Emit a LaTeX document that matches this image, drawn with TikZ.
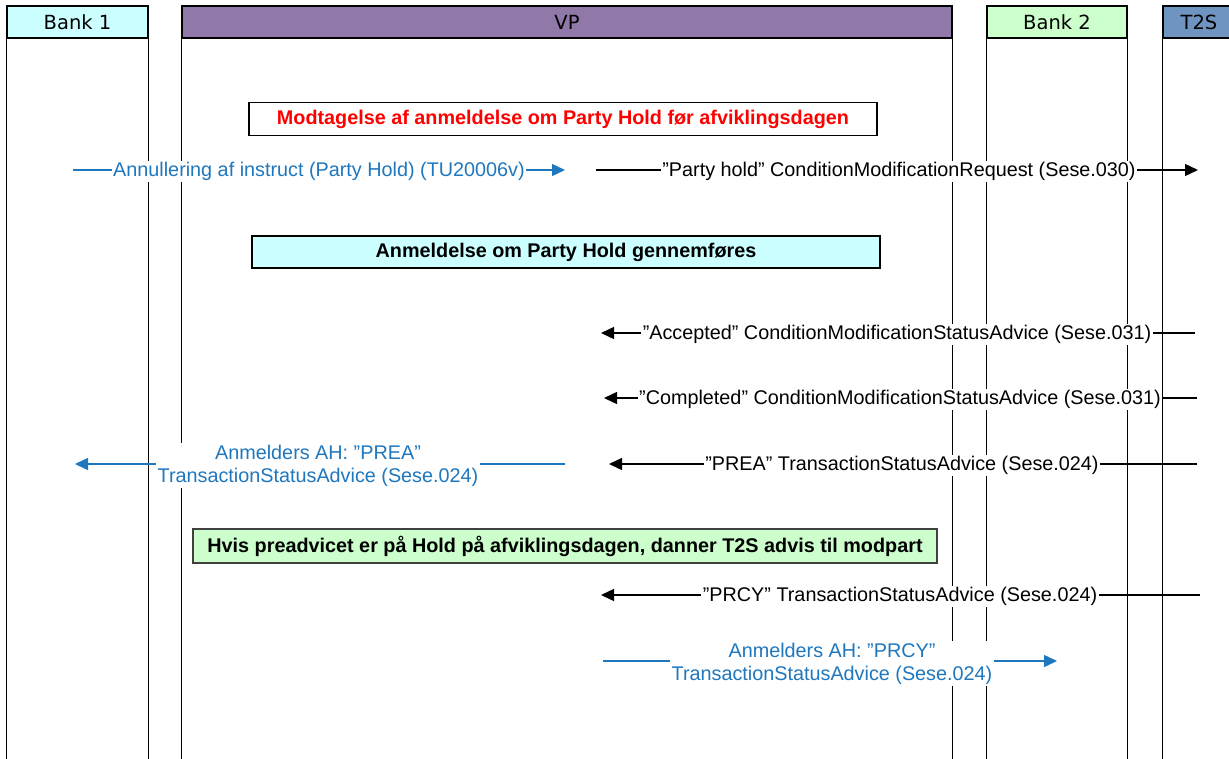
\documentclass[tikz,border=0pt]{standalone}
\usepackage{fontspec}
\setmainfont{Liberation Sans}
\newfontfamily\headfont{DejaVu Sans}
\usetikzlibrary{arrows.meta}
\definecolor{bankcyan}{HTML}{CCFFFF}
\definecolor{vppurple}{HTML}{9079A9}
\definecolor{bankgreen}{HTML}{CCFFCC}
\definecolor{tsblue}{HTML}{7094C1}
\definecolor{msgblue}{HTML}{1F77BE}
\tikzset{
  lane/.style={draw=black, line width=1.3pt, minimum height=32pt, inner sep=0pt,
    font=\headfont\fontsize{19.5}{22}\selectfont},
  life/.style={line width=1.3pt},
  msg/.style={line width=1.4pt, -{Triangle[length=13pt,width=12pt]}},
  bmsg/.style={msg, draw=msgblue},
  lbl/.style={fill=white, inner sep=1.5pt, yshift=-1.5pt, font=\fontsize{19.8}{23}\selectfont},
  blbl/.style={lbl, text=msgblue, align=center},
  note/.style={draw=black, line width=1.3pt, inner sep=0pt, minimum height=33pt,
    font=\bfseries\fontsize{19.8}{23}\selectfont}
}
\begin{document}
\begin{tikzpicture}[x=1pt,y=-1pt]
  \useasboundingbox (0,0) rectangle (1229,758);
  \clip (0,0) rectangle (1229,758);
  % lanes
  \node[lane, fill=bankcyan, minimum width=141pt] (bank1) at (77.5,22) {Bank 1};
  \node[lane, fill=vppurple, minimum width=770pt] (vp) at (567,22) {VP};
  \node[lane, fill=bankgreen, minimum width=140pt] (bank2) at (1057,22) {Bank 2};
  \node[lane, fill=tsblue, minimum width=90pt] (t2s) at (1208,22) {\hspace*{-18pt}T2S};
  \foreach \n in {bank1,vp,bank2,t2s} {
    \draw[life] (\n.south west) -- ++(0,730);
    \draw[life] (\n.south east) -- ++(0,730);
  }
  % notes
  \node[note, text=red, minimum width=628pt] (note1) at (563,119)
    {Modtagelse af anmeldelse om Party Hold før afviklingsdagen};
  \node[note, fill=bankcyan, minimum width=628pt, minimum height=32pt] (note2) at (566,252)
    {Anmeldelse om Party Hold gennemføres};
  \node[note, draw=black!75, fill=bankgreen, minimum width=744pt, minimum height=34pt] (note3) at (565,546)
    {Hvis preadvicet er på Hold på afviklingsdagen, danner T2S advis til modpart};
  % messages
  \coordinate (m1s) at (73,170);   \coordinate (m1e) at (565,170);
  \coordinate (m2s) at (596,170);  \coordinate (m2e) at (1198,170);
  \coordinate (m3s) at (1195,333); \coordinate (m3e) at (601,333);
  \coordinate (m4s) at (1197,398); \coordinate (m4e) at (604,398);
  \coordinate (m5s) at (1197,464); \coordinate (m5e) at (609,464);
  \coordinate (m6s) at (565,464);  \coordinate (m6e) at (75,464);
  \coordinate (m7s) at (1200,595); \coordinate (m7e) at (601,595);
  \coordinate (m8s) at (603,661);  \coordinate (m8e) at (1057,661);
  \draw[bmsg] (m1s) -- (m1e);
  \draw[msg] (m2s) -- (m2e);
  \draw[msg] (m3s) -- (m3e);
  \draw[msg] (m4s) -- (m4e);
  \draw[msg] (m5s) -- (m5e);
  \draw[bmsg] (m6s) -- (m6e);
  \draw[msg] (m7s) -- (m7e);
  \draw[bmsg] (m8s) -- (m8e);
  \node[blbl] (l1) at (319,170) {Annullering af instruct (Party Hold) (TU20006v)};
  \node[lbl] (l2) at (899,170) {”Party hold” ConditionModificationRequest (Sese.030)};
  \node[lbl] (l3) at (897,333) {”Accepted” ConditionModificationStatusAdvice (Sese.031)};
  \node[lbl] (l4) at (900,398) {”Completed” ConditionModificationStatusAdvice (Sese.031)};
  \node[lbl] (l5) at (902,464) {”PREA” TransactionStatusAdvice (Sese.024)};
  \node[blbl] (l6) at (318,464) {Anmelders AH: ”PREA”\\TransactionStatusAdvice (Sese.024)};
  \node[lbl] (l7) at (900,595) {”PRCY” TransactionStatusAdvice (Sese.024)};
  \node[blbl] (l8) at (832,662) {Anmelders AH: ”PRCY”\\TransactionStatusAdvice (Sese.024)};
\end{tikzpicture}
\end{document}
